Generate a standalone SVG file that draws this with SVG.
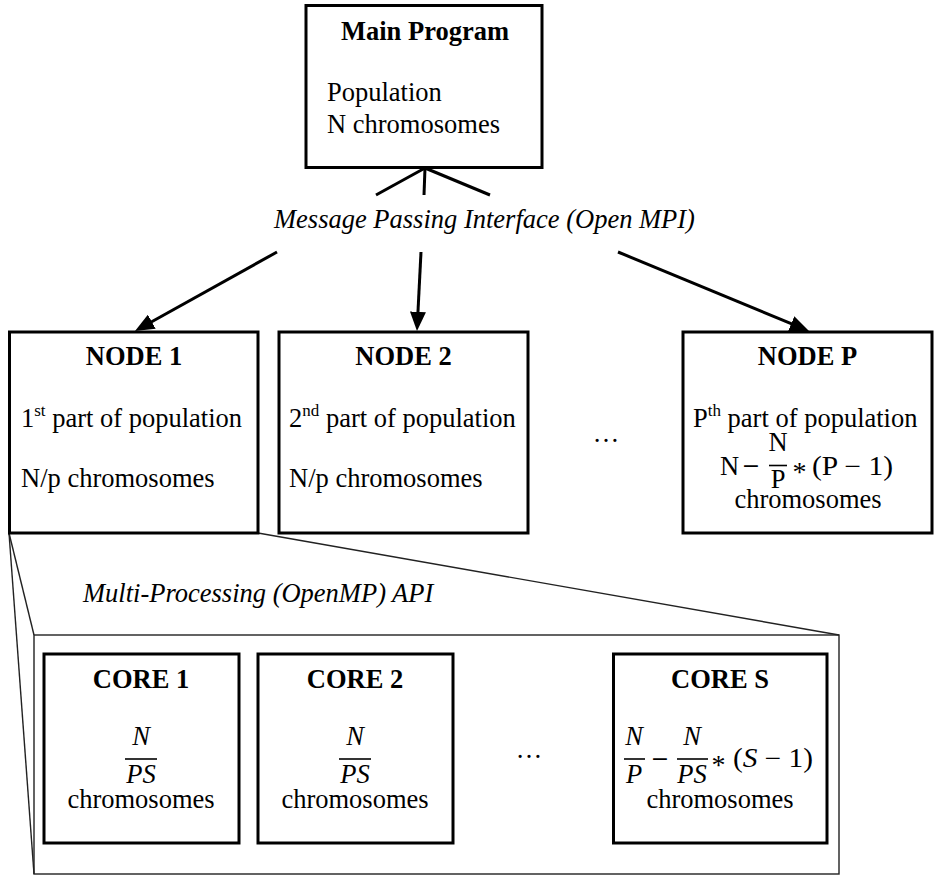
<svg xmlns="http://www.w3.org/2000/svg" width="936" height="878" viewBox="0 0 936 878">
  <style>
    text { font-family: "Liberation Serif", "Times New Roman", serif; font-size: 26.5px; fill: #000; }
    .b { font-weight: bold; }
    .i { font-style: italic; }
    .m { text-anchor: middle; }
    .sup { font-size: 17px; }
    .ast { font-size: 28px; }
    .minus { font-family: "DejaVu Serif", serif; font-size: 22px; }
    .box { fill: #fff; stroke: #000; stroke-width: 3; }
    .thin { fill: none; stroke: #222; stroke-width: 1.4; }
    .conn { stroke: #000; stroke-width: 3; fill: none; }
    .bar { stroke: #000; stroke-width: 1.6; }
  </style>
  <defs>
    <marker id="arrow" viewBox="0 0 12 10" refX="2" refY="5" markerWidth="6.4" markerHeight="5.4" orient="auto" markerUnits="strokeWidth">
      <path d="M0,0 L12,5 L0,10 z" fill="#000"/>
    </marker>
  </defs>

  <rect width="936" height="878" fill="#fff"/>

  <!-- zoom-out frame linking NODE 1 to its cores -->
  <g id="core-frame">
    <rect class="thin" x="34" y="635" width="805" height="239"/>
    <line class="thin" x1="9" y1="533" x2="34" y2="635"/>
    <line class="thin" x1="9" y1="533" x2="34" y2="874"/>
    <line class="thin" x1="258" y1="533" x2="839" y2="635"/>
  </g>

  <!-- connectors from the main program to the nodes -->
  <g id="connectors">
    <line class="conn" x1="425" y1="168" x2="376" y2="195"/>
    <line class="conn" x1="425" y1="168" x2="424" y2="195"/>
    <line class="conn" x1="425" y1="168" x2="490" y2="195"/>
    <line class="conn" x1="277" y1="252" x2="149" y2="323.2" marker-end="url(#arrow)"/>
    <line class="conn" x1="421" y1="252" x2="417.8" y2="315" marker-end="url(#arrow)"/>
    <line class="conn" x1="618" y1="252" x2="794.2" y2="324.9" marker-end="url(#arrow)"/>
  </g>

  <g id="label-mpi">
    <text class="i" x="274" y="228">Message Passing Interface (Open MPI)</text>
  </g>

  <g id="main-program">
    <rect class="box" x="306" y="5.5" width="236" height="162"/>
    <text class="b m" x="425" y="40">Main Program</text>
    <text x="327" y="101">Population</text>
    <text x="327" y="133">N chromosomes</text>
  </g>

  <g id="node-1">
    <rect class="box" x="9.5" y="332" width="248.5" height="201"/>
    <text class="b m" x="134" y="365">NODE 1</text>
    <text x="21" y="427">1<tspan class="sup" dy="-11">st</tspan><tspan dy="11"> part of population</tspan></text>
    <text x="21" y="487">N/p chromosomes</text>
  </g>

  <g id="node-2">
    <rect class="box" x="279" y="332" width="249" height="201"/>
    <text class="b m" x="403.5" y="365">NODE 2</text>
    <text x="289" y="427">2<tspan class="sup" dy="-11">nd</tspan><tspan dy="11"> part of population</tspan></text>
    <text x="289" y="487">N/p chromosomes</text>
  </g>

  <g id="nodes-ellipsis">
    <text class="m" x="606" y="442">…</text>
  </g>

  <g id="node-p">
    <rect class="box" x="683" y="332" width="249" height="201"/>
    <text class="b m" x="807.5" y="365">NODE P</text>
    <text x="693" y="427">P<tspan class="sup" dy="-11">th</tspan><tspan dy="11"> part of population</tspan></text>
    <!-- N − N/P ∗ (P − 1) -->
    <text class="m" x="729.5" y="475">N</text>
    <text class="m minus" x="751" y="473">−</text>
    <text class="m" x="778" y="451">N</text>
    <line class="bar" x1="769" y1="465.5" x2="787" y2="465.5"/>
    <text class="m" x="778" y="488">P</text>
    <text class="m ast" x="799.5" y="481">*</text>
    <text x="812" y="475" textLength="81" lengthAdjust="spacingAndGlyphs">(P − 1)</text>
    <text class="m" x="808" y="508">chromosomes</text>
  </g>

  <g id="label-openmp">
    <text class="i" x="83" y="602">Multi-Processing (OpenMP) API</text>
  </g>

  <g id="core-1">
    <rect class="box" x="44" y="654" width="195" height="189"/>
    <text class="b m" x="141" y="688">CORE 1</text>
    <text class="i m" x="141" y="745">N</text>
    <line class="bar" x1="125" y1="759" x2="157" y2="759"/>
    <text class="i m" x="141" y="783">PS</text>
    <text class="m" x="141" y="808">chromosomes</text>
  </g>

  <g id="core-2">
    <rect class="box" x="258" y="654" width="195" height="189"/>
    <text class="b m" x="355" y="688">CORE 2</text>
    <text class="i m" x="355" y="745">N</text>
    <line class="bar" x1="339" y1="759" x2="371" y2="759"/>
    <text class="i m" x="355" y="783">PS</text>
    <text class="m" x="355" y="808">chromosomes</text>
  </g>

  <g id="cores-ellipsis">
    <text class="m" x="529" y="758">…</text>
  </g>

  <g id="core-s">
    <rect class="box" x="613.5" y="654" width="213.5" height="189"/>
    <text class="b m" x="720" y="688">CORE S</text>
    <!-- N/P − N/PS ∗ (S − 1) -->
    <text class="i m" x="634" y="745">N</text>
    <line class="bar" x1="624" y1="759" x2="645" y2="759"/>
    <text class="i m" x="634" y="783">P</text>
    <text class="m minus" x="660" y="766">−</text>
    <text class="i m" x="692" y="745">N</text>
    <line class="bar" x1="677" y1="759" x2="708" y2="759"/>
    <text class="i m" x="692" y="783">PS</text>
    <text class="m ast" x="718.5" y="774">*</text>
    <text x="733" y="767" textLength="80" lengthAdjust="spacingAndGlyphs">(<tspan class="i">S</tspan> − 1)</text>
    <text class="m" x="720" y="808">chromosomes</text>
  </g>
</svg>
